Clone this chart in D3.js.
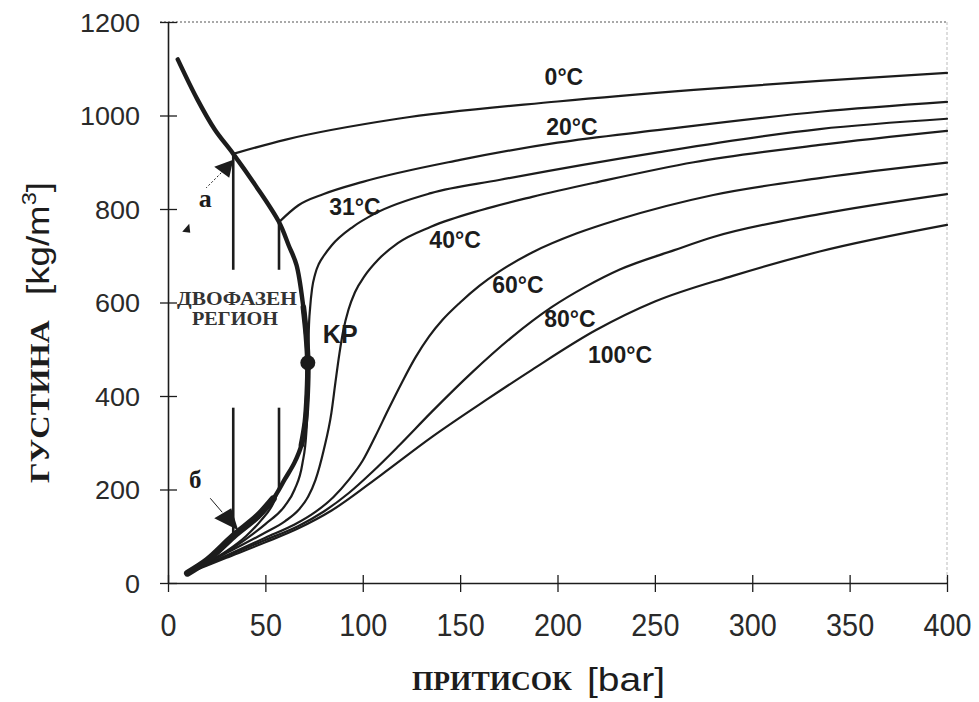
<!DOCTYPE html>
<html>
<head>
<meta charset="utf-8">
<script src="https://cdn.jsdelivr.net/npm/d3@7"></script>
<style>
  body { margin: 0; background: #fff; }
  svg { display: block; }
</style>
</head>
<body>
<svg id="chart"></svg>
<script>
// ticks
var xTicks = [0, 50, 100, 150, 200, 250, 300, 350, 400];
var yTicks = [0, 200, 400, 600, 800, 1000, 1200];

// saturation curve (liquid branch, critical point, vapour branch) : pressure [bar], density [kg/m3]
var satP = [5, 15, 24, 33.5, 45, 57, 62, 66, 69.5, 71, 71.8, 71.5, 70.5, 68.5, 65, 60, 54, 46, 33.5, 20, 10];
var satD = [1120, 1035, 970, 918, 850, 772, 722, 680, 590, 530, 471, 405, 345, 295, 258, 222, 180, 143, 100, 48, 21];
var critical = [71.8, 471];

// isotherms
var temps = ["0°C", "20°C", "31°C", "40°C", "60°C", "80°C", "100°C"];

var gas0P = [10, 20, 27, 33.5];
var gas0D = [21, 45, 70, 100];
var liq0P = [33.5, 60, 118, 200, 270, 334.6, 400];
var liq0D = [918, 948, 993, 1030, 1055, 1074, 1091];

var gas20P = [10, 20, 30, 40, 48, 54, 57];
var gas20D = [21, 43, 68, 100, 135, 170, 201];
var liq20P = [57, 67, 80, 100, 150, 200, 250, 334.6, 400];
var liq20D = [772, 808, 832, 858, 905, 942, 968, 1008, 1029];

var t31P = [10, 20, 30, 40, 50, 60, 65, 69, 71, 71.8, 72, 72.3, 73, 74, 75.5, 77.5, 80, 84, 95, 106.6, 135, 170, 250, 334.6, 400];
var t31D = [21, 43, 66, 94, 126, 165, 200, 255, 320, 400, 471, 540, 590, 630, 660, 683, 700, 722, 762, 791, 834, 862, 920, 971, 993];

var t40P = [10, 20, 30, 50, 60, 67, 72, 75.7, 80, 83.9, 86, 88, 90, 92.7, 96, 101, 108, 118, 135, 161, 187, 221, 270, 334.6, 400];
var t40D = [21, 42, 64, 108, 132, 156, 185, 220, 285, 364, 430, 490, 540, 585, 622, 657, 692, 727, 762, 798, 826, 858, 900, 937, 967];

var t60P = [10, 30, 50, 65, 75.7, 85, 92.7, 100, 106.6, 113, 120, 127, 134, 141, 150, 160, 170, 187, 210, 231.7, 280, 334.6, 400];
var t60D = [21, 59, 97, 125, 152, 184, 220, 262, 315, 370, 428, 482, 527, 563, 600, 636, 666, 707, 748, 778, 830, 866, 899];

var t80P = [10, 30, 50, 67, 80, 92.7, 105, 118.4, 135.4, 156, 176.6, 197, 215, 231.7, 260, 280, 334.6, 400];
var t80D = [21, 57, 92, 122, 153, 192, 238, 293, 366, 450, 526, 590, 635, 670, 712, 740, 789, 832];

var t100P = [10, 30, 50, 67, 84, 109.7, 135.4, 163.2, 186.9, 219.8, 250, 290, 334.6, 400];
var t100D = [21, 54, 87, 117, 155, 232, 312, 391, 456, 541, 602, 657, 709, 766];

// tie lines (0°C and 20°C) : pressure, liquid density, vapour density
var tieP = [33.5, 57];
var tieTop = [918, 772];
var tieBottom = [100, 201];
var tieGap = [670, 375];   // broken where the region label sits

// label anchors in data units
var labelP = [203.3, 207.4, 96.0, 147.4, 179.7, 206.4, 232.1];
var labelD = [1065, 958, 787, 717, 620, 548, 471];

var width = 979, height = 702;
var ink = "#1c1c1c";
var serif = "'Liberation Serif', 'Times New Roman', serif";

var svg = d3.select("#chart")
  .attr("width", width)
  .attr("height", height)
  .style("font-family", "'Liberation Sans', Arial, sans-serif");

var x = d3.scaleLinear().domain([0, 400]).range([168, 947]);
var y = d3.scaleLinear().domain([0, 1200]).range([583, 22]);

function pts(P, D) { return P.map((p, i) => [p, D[i]]); }

var smooth = d3.line()
  .x(d => x(d[0]))
  .y(d => y(d[1]))
  .curve(d3.curveMonotoneX);

var loop = d3.line()
  .x(d => x(d[0]))
  .y(d => y(d[1]))
  .curve(d3.curveCatmullRom.alpha(0.5));

// frame: dotted top, faint right edge
svg.append("line")
  .attr("x1", x(0) - 8).attr("x2", x(400))
  .attr("y1", y(1200)).attr("y2", y(1200))
  .attr("stroke", "#555").attr("stroke-width", 1.2)
  .attr("stroke-dasharray", "2,2");
svg.append("line")
  .attr("x1", x(400)).attr("x2", x(400))
  .attr("y1", y(1200)).attr("y2", y(0))
  .attr("stroke", "#bbb").attr("stroke-width", 1)
  .attr("stroke-dasharray", "3,2");

// axes
var xAxis = d3.axisBottom(x).tickValues(xTicks).tickSize(8).tickSizeOuter(0).tickFormat(d3.format("d"));
var gx = svg.append("g")
  .attr("transform", "translate(0," + y(0) + ")")
  .call(xAxis);
gx.select(".domain").attr("stroke", ink).attr("stroke-width", 1.6);
gx.selectAll(".tick line").attr("y1", -8).attr("y2", 9).attr("stroke", ink).attr("stroke-width", 1.3);
gx.selectAll(".tick text")
  .attr("y", 53).attr("dy", null)
  .attr("transform", "scale(0.9,1)")
  .attr("fill", "#2a2a2a")
  .style("font-size", "32px")
  .style("font-family", "'Liberation Sans', Arial, sans-serif");

var yAxis = d3.axisLeft(y).tickValues(yTicks).tickSize(8).tickSizeOuter(0).tickFormat(d3.format("d"));
var gy = svg.append("g")
  .attr("transform", "translate(" + x(0) + ",0)")
  .call(yAxis);
gy.select(".domain").attr("stroke", ink).attr("stroke-width", 1.6);
gy.selectAll(".tick line").attr("x1", 9).attr("x2", -8).attr("stroke", ink).attr("stroke-width", 1.3);
gy.selectAll(".tick text")
  .attr("x", -26).attr("dy", "0.36em")
  .attr("transform", "scale(1.08,1)")
  .attr("fill", "#2a2a2a")
  .style("font-size", "25px")
  .style("font-family", "'Liberation Sans', Arial, sans-serif");

// axis titles
svg.append("text")
  .attr("x", 412).attr("y", 690)
  .attr("textLength", 160).attr("lengthAdjust", "spacingAndGlyphs")
  .style("font-family", serif)
  .style("font-weight", "bold").style("font-size", "27px")
  .attr("fill", ink)
  .text("ПРИТИСОК");
svg.append("text")
  .attr("x", 587).attr("y", 691)
  .attr("textLength", 78).attr("lengthAdjust", "spacingAndGlyphs")
  .style("font-size", "33px")
  .attr("fill", ink)
  .text("[bar]");

svg.append("text")
  .attr("transform", "translate(49,483) rotate(-90)")
  .attr("textLength", 163).attr("lengthAdjust", "spacingAndGlyphs")
  .style("font-family", serif)
  .style("font-weight", "bold").style("font-size", "27px")
  .attr("fill", ink)
  .text("ГУСТИНА");
var yUnit = svg.append("text")
  .attr("transform", "translate(49,295) rotate(-90)")
  .attr("textLength", 113).attr("lengthAdjust", "spacingAndGlyphs")
  .style("font-size", "31px")
  .attr("fill", ink);
yUnit.append("tspan").text("[kg/m");
yUnit.append("tspan").attr("dy", -13).style("font-size", "20px").text("3");
yUnit.append("tspan").attr("dy", 13).text("]");

// isotherms
var curves = svg.append("g")
  .attr("fill", "none")
  .attr("stroke", ink)
  .attr("stroke-width", 2.2)
  .attr("stroke-linecap", "round")
  .attr("stroke-linejoin", "round");

[pts(gas0P, gas0D), pts(liq0P, liq0D),
 pts(gas20P, gas20D), pts(liq20P, liq20D),
 pts(t31P, t31D), pts(t40P, t40D), pts(t60P, t60D), pts(t80P, t80D), pts(t100P, t100D)]
  .forEach(function(d) {
    curves.append("path").attr("d", smooth(d));
  });

// tie lines with gap for the region label
tieP.forEach(function(p, i) {
  [[tieTop[i], tieGap[0]], [tieGap[1], tieBottom[i]]].forEach(function(seg) {
    curves.append("line")
      .attr("x1", x(p)).attr("x2", x(p))
      .attr("y1", y(seg[0])).attr("y2", y(seg[1]))
      .attr("stroke-width", 2.6)
      .attr("stroke-linecap", "butt");
  });
});

// saturation curve
var sat = pts(satP, satD);
svg.append("path")
  .attr("d", loop(sat))
  .attr("fill", "none")
  .attr("stroke", ink)
  .attr("stroke-width", 4.4)
  .attr("stroke-linecap", "round")
  .attr("stroke-linejoin", "round");
// heavier near the critical point and at the low-pressure vapour end
svg.append("path")
  .attr("d", loop(sat.slice(8, 14)))
  .attr("fill", "none")
  .attr("stroke", ink)
  .attr("stroke-width", 5.6)
  .attr("stroke-linecap", "round");
svg.append("path")
  .attr("d", loop(sat.slice(-5)))
  .attr("fill", "none")
  .attr("stroke", ink)
  .attr("stroke-width", 7)
  .attr("stroke-linecap", "round");

// critical point
var cx = x(critical[0]), cy = y(critical[1]);
svg.append("circle")
  .attr("cx", cx).attr("cy", cy).attr("r", 7.5)
  .attr("fill", ink);
svg.append("text")
  .attr("x", cx + 15).attr("y", cy - 20)
  .style("font-weight", "bold").style("font-size", "25px")
  .attr("fill", ink)
  .text("KP");

// isotherm labels
svg.append("g")
  .selectAll("text")
  .data(temps)
  .enter()
  .append("text")
    .attr("x", (d, i) => x(labelP[i]))
    .attr("y", (d, i) => y(labelD[i]))
    .attr("text-anchor", "middle")
    .style("font-weight", "bold")
    .style("font-size", "23px")
    .attr("fill", ink)
    .text(d => d);

// two-phase region label
svg.append("text")
  .attr("x", 177).attr("y", 305)
  .attr("textLength", 120).attr("lengthAdjust", "spacingAndGlyphs")
  .style("font-family", serif).style("font-weight", "bold").style("font-size", "18px")
  .attr("fill", "#333")
  .text("ДВОФАЗЕН");
svg.append("text")
  .attr("x", 192).attr("y", 325)
  .attr("textLength", 86).attr("lengthAdjust", "spacingAndGlyphs")
  .style("font-family", serif).style("font-weight", "bold").style("font-size", "18px")
  .attr("fill", "#333")
  .text("РЕГИОН");

// arrow "а" to the liquid end of the 0°C tie line
var ax = x(tieP[0]), ay = y(tieTop[0]) + 6;
svg.append("path")
  .attr("d", "M" + ax + "," + ay + "l-19,7l15,11z")
  .attr("fill", ink);
svg.append("line")
  .attr("x1", ax - 12).attr("y1", ay + 13)
  .attr("x2", ax - 27).attr("y2", ay + 28)
  .attr("stroke", ink).attr("stroke-width", 1)
  .attr("stroke-dasharray", "2,2");
svg.append("text")
  .attr("x", ax - 28).attr("y", ay + 47)
  .attr("text-anchor", "middle")
  .style("font-family", serif).style("font-weight", "bold").style("font-size", "26px")
  .attr("fill", ink)
  .text("а");
svg.append("path")
  .attr("d", "M" + (ax - 51) + "," + (ay + 72) + "l7,-8l1,9z")
  .attr("fill", ink);

// arrow "б" to the vapour end of the 0°C tie line
var bx = x(tieP[0]), by = y(tieBottom[0]);
svg.append("path")
  .attr("d", "M" + (bx + 5) + "," + (by - 6) + "l-24,-12l17,-10z")
  .attr("fill", ink);
svg.append("line")
  .attr("x1", bx - 11).attr("y1", by - 24)
  .attr("x2", bx - 23).attr("y2", by - 38)
  .attr("stroke", ink).attr("stroke-width", 1);
svg.append("text")
  .attr("x", bx - 38).attr("y", by - 48)
  .attr("text-anchor", "middle")
  .style("font-family", serif).style("font-weight", "bold").style("font-size", "25px")
  .attr("fill", ink)
  .text("б");
</script>
</body>
</html>
